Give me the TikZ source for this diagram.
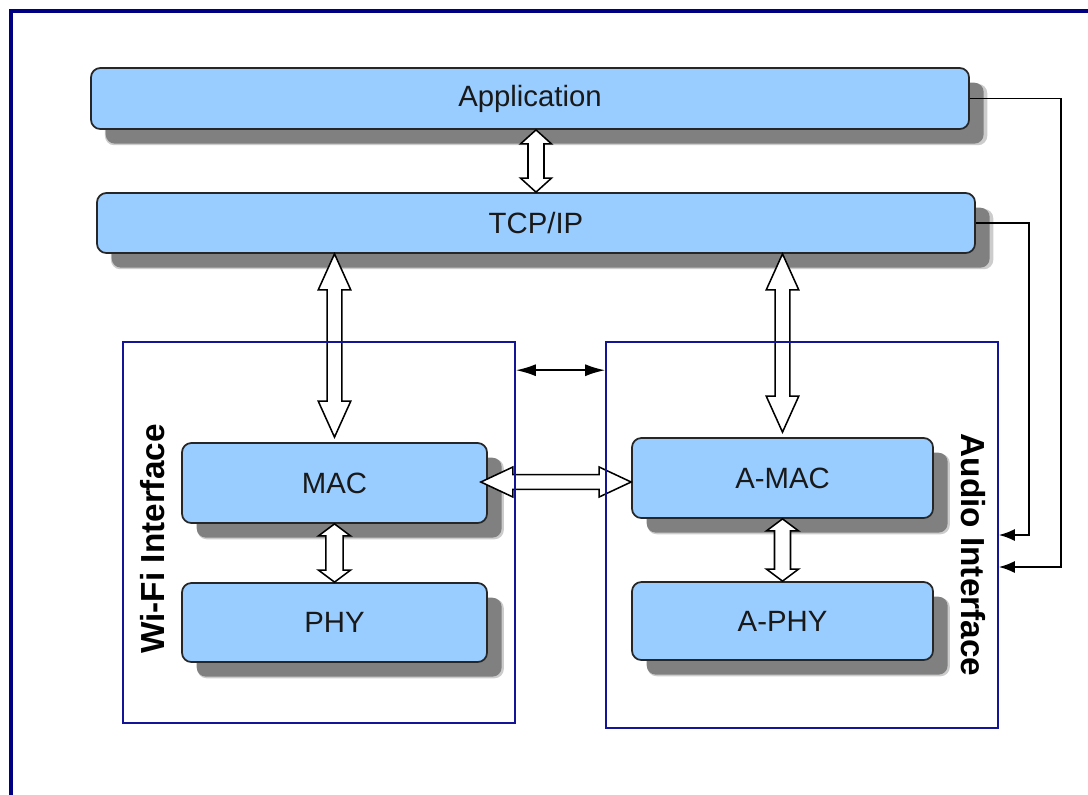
\documentclass[tikz,border=0pt]{standalone}
\usepackage{fontspec}
\setmainfont{Liberation Sans}
\usetikzlibrary{shadows,arrows.meta,calc}
\definecolor{boxblue}{RGB}{153,204,255}
\definecolor{navyframe}{RGB}{0,0,130}
\definecolor{ifaceblue}{RGB}{20,20,150}
\definecolor{shadowgray}{RGB}{128,128,128}

\newcommand\hollowdbl[5]{%
  \draw[hollowarr] let \p1=#1, \p2=#2, \n1={veclen(\x2-\x1,\y2-\y1)}, \n2={atan2(\y2-\y1,\x2-\x1)} in
  [shift={(\p1)}, rotate=\n2]
  (0pt,0pt) -- (#5,#4) -- (#5,#3) -- ({\n1*1pt-#5},#3) -- ({\n1*1pt-#5},#4) -- ({\n1*1pt},0pt)
  -- ({\n1*1pt-#5},-#4) -- ({\n1*1pt-#5},-#3) -- (#5,-#3) -- (#5,-#4) -- cycle;}

\tikzset{
  box/.style={draw=black!85, line width=1.3pt, fill=boxblue, rounded corners=7pt,
    general shadow={fill=shadowgray!40, rounded corners=8pt, shadow xshift=12pt, shadow yshift=-12pt, shadow scale=1.005},
    general shadow={fill=shadowgray, rounded corners=7pt, shadow xshift=11pt, shadow yshift=-11pt},
    font=\fontsize{22}{26}\selectfont, text=black!90, inner sep=0pt},
  iface/.style={draw=ifaceblue, line width=1.2pt, inner sep=0pt},
  hollowarr/.style={draw=black, line width=1.15pt, fill=white, line join=miter},
  vlabel/.style={font=\fontsize{25}{30}\selectfont\bfseries, inner sep=0pt},
  fb/.style={draw=black, line width=1.3pt, -{Latex[length=12pt,width=9pt]}},
  smallarr/.style={draw=black, line width=1.4pt, {Latex[length=15pt,width=9pt]}-{Latex[length=15pt,width=9pt]}},
}

\begin{document}
\begin{tikzpicture}[x=0.75pt,y=-0.75pt]
\path[use as bounding box, clip] (0,0) rectangle (1088,794);
\fill[white] (0,0) rectangle (1088,794);
% outer frame
\draw[navyframe, line width=3pt] (11,11) rectangle (1110,815);

% boxes
\node[box, minimum width=658.5pt, minimum height=45.75pt] (app) at (530,98.5) {Application};
\node[box, minimum width=658.5pt, minimum height=45pt] (tcp) at (536,223) {TCP/IP};
\node[box, minimum width=228.75pt, minimum height=60pt] (mac) at (334.5,483) {MAC};
\node[box, minimum width=228.75pt, minimum height=59.25pt] (phy) at (334.5,622.5) {PHY};
\node[box, minimum width=225.75pt, minimum height=60pt] (amac) at (782.5,478) {A-MAC};
\node[box, minimum width=225.75pt, minimum height=58.5pt] (aphy) at (782.5,621) {A-PHY};

% hollow double arrows
\hollowdbl{(app.south -| tcp.north)}{(tcp.north)}{6pt}{11.6pt}{10.5pt}
\hollowdbl{(tcp.south -| mac.north)}{($(mac.north)+(0,-5)$)}{5.6pt}{12.2pt}{27pt}
\hollowdbl{(tcp.south -| amac.north)}{($(amac.north)+(0,-5)$)}{5.6pt}{12.2pt}{27pt}
\hollowdbl{(mac.south)}{(phy.north)}{6.5pt}{12pt}{9pt}
\hollowdbl{(amac.south)}{(aphy.north)}{6pt}{12pt}{9pt}
\hollowdbl{($(mac.east)+(-7,-1)$)}{($(mac.east -| amac.west)+(0,-1)$)}{5.6pt}{11.25pt}{24pt}

% interface frames
\node[iface, minimum width=294pt, minimum height=285.75pt] (wifi) at (319,532.5) {};
\node[iface, minimum width=294pt, minimum height=289.5pt] (audio) at (802,535) {};

% labels
\node[vlabel, rotate=90] (wlab) at (153,539) {Wi-Fi Interface};
\node[vlabel, rotate=-90] (alab) at (973,555) {Audio Interface};

% small double arrow between interfaces
\draw[smallarr] ($(wifi.north east)+(0,29)$) -- ($(audio.north west)+(0,29)$);

% feedback lines
\coordinate (in2) at ($(audio.east)+(0,32)$);
\draw[fb] (tcp.east) -- ++(53,0) |- (audio.east);
\draw[fb] (app.east) -- ++(91,0) |- (in2);
\end{tikzpicture}
\end{document}
